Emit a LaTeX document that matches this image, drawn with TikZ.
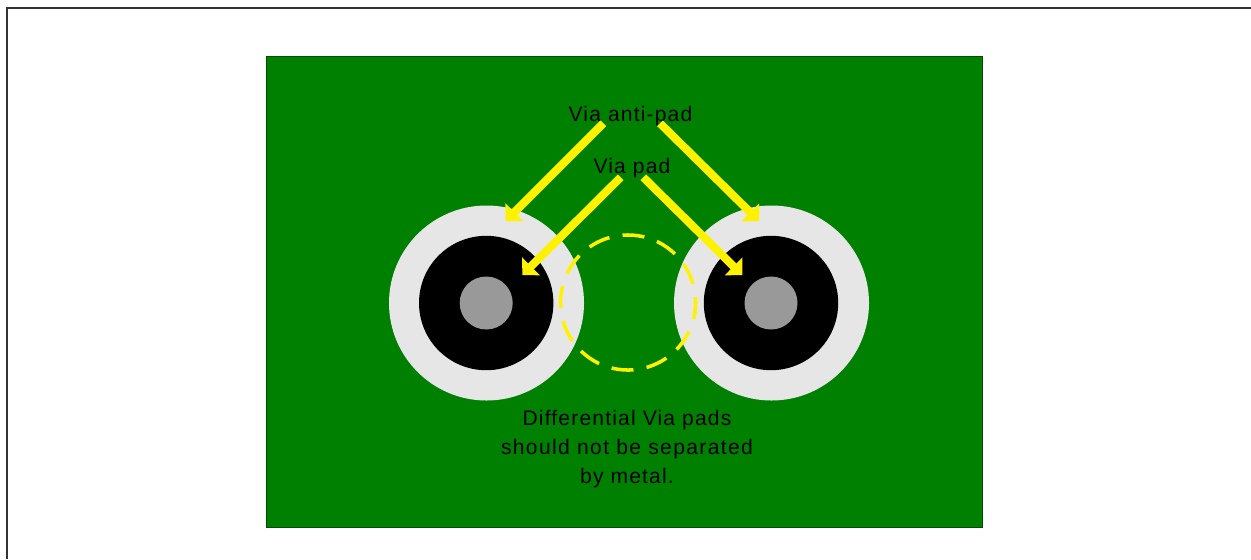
\documentclass[tikz,border=0pt]{standalone}
\usepackage{fontspec}
\setmainfont[LetterSpace=5.5]{Liberation Sans}
\usetikzlibrary{arrows.meta}
\definecolor{boardgreen}{HTML}{008000}
\definecolor{antipadgray}{HTML}{E6E6E6}
\definecolor{drillgray}{HTML}{999999}
\tikzset{
  viatext/.style={inner sep=0pt, font=\fontsize{6}{8.14}\selectfont, text=black},
  viaarrow/.style={yellow, line width=2.3pt, -{Triangle[length=3.5pt, width=7pt]}}
}
\begin{document}
\begin{tikzpicture}
  \useasboundingbox (0,0) rectangle (12.51,5.59);
  \draw[black!80, line width=0.5pt] (0.07,0) -- (0.07,5.51) -- (12.51,5.51);
  \filldraw[fill=boardgreen, draw=black!40!boardgreen, line width=0.2pt] (2.66,0.315) rectangle (9.825,5.03);

  \begin{scope}[xshift=4.862cm, yshift=2.56cm]
    \fill[antipadgray] (0.003,0) circle (0.975);
    \fill[black] (0,0) circle (0.672);
    \fill[drillgray] (0,0) circle (0.265);
  \end{scope}

  \begin{scope}[xshift=7.71cm, yshift=2.56cm]
    \fill[antipadgray] (0.005,0) circle (0.975);
    \fill[black] (0,0) circle (0.672);
    \fill[drillgray] (0,0) circle (0.265);
  \end{scope}

  \draw[yellow, line width=1pt, rotate around={-14:(6.28,2.565)}, dash pattern=on 0.22cm off 0.1334cm] (6.28,2.565) circle (0.675);

  \node[viatext, anchor=base] (antipad) at (6.305,4.38) {Via anti-pad};
  \node[viatext, anchor=base] (viapad) at (6.32,3.857) {Via pad};
  \node[viatext, align=center] (note) at (6.27,1.10) {Differential Via pads\\\addfontfeature{LetterSpace=6.4}should not be separated\\by metal.};

  \coordinate (antileft) at (5.057,3.38);
  \coordinate (antiright) at (7.59,3.38);
  \coordinate (padleft) at (5.223,2.84);
  \coordinate (padright) at (7.423,2.84);

  \draw[viaarrow] ([shift={(-0.272,-0.023)}]antipad.base) -- (antileft);
  \draw[viaarrow] ([shift={(0.295,-0.023)}]antipad.base) -- (antiright);
  \draw[viaarrow] ([shift={(-0.113,-0.04)}]viapad.base) -- (padleft);
  \draw[viaarrow] ([shift={(0.113,-0.04)}]viapad.base) -- (padright);
\end{tikzpicture}
\end{document}
